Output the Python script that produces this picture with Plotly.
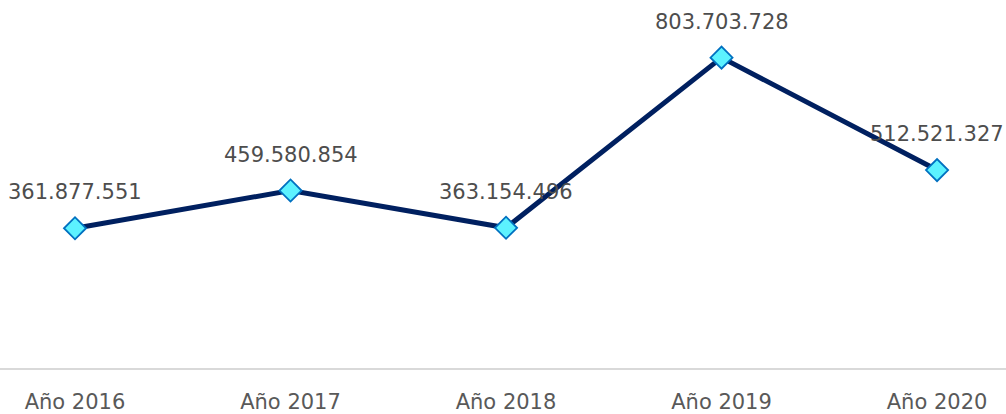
import plotly.graph_objects as go

categories = ["Año 2016", "Año 2017", "Año 2018", "Año 2019", "Año 2020"]
values = [361877551, 459580854, 363154496, 803703728, 512521327]
labels = ["361.877.551", "459.580.854", "363.154.496", "803.703.728", "512.521.327"]

xs = list(range(len(categories)))
FONT = "DejaVu Sans, sans-serif"

fig = go.Figure()
fig.add_trace(go.Scatter(
    x=xs, y=values, mode="lines+markers",
    line=dict(color="#002060", width=5),
    marker=dict(symbol="diamond", size=17, color="#5CF2FF",
                line=dict(color="#0070C0", width=1.8)),
    hoverinfo="skip", cliponaxis=False,
))

for x, v, t in zip(xs, values, labels):
    fig.add_annotation(x=x, y=v, text=t, showarrow=False, yshift=36,
                       font=dict(family=FONT, size=21, color="#4D4D4D"))

fig.update_layout(
    width=1006, height=414,
    margin=dict(l=0, r=0, t=0, b=46, autoexpand=False),
    paper_bgcolor="white", plot_bgcolor="white",
    showlegend=False,
    xaxis=dict(
        range=[-0.348, 4.32], tickmode="array", tickvals=xs, ticktext=categories,
        showgrid=False, zeroline=False, showline=True, linecolor="#D9D9D9", linewidth=2,
        ticks="outside", ticklen=14, tickcolor="rgba(0,0,0,0)", automargin=False,
        tickfont=dict(family=FONT, size=21, color="#595959"),
    ),
    yaxis=dict(range=[0, 953e6], visible=False, showgrid=False, zeroline=False, automargin=False),
)

fig.write_html("out.html", config={"displayModeBar": False},
               post_script="document.body.style.margin='0';document.body.style.overflow='hidden';")
